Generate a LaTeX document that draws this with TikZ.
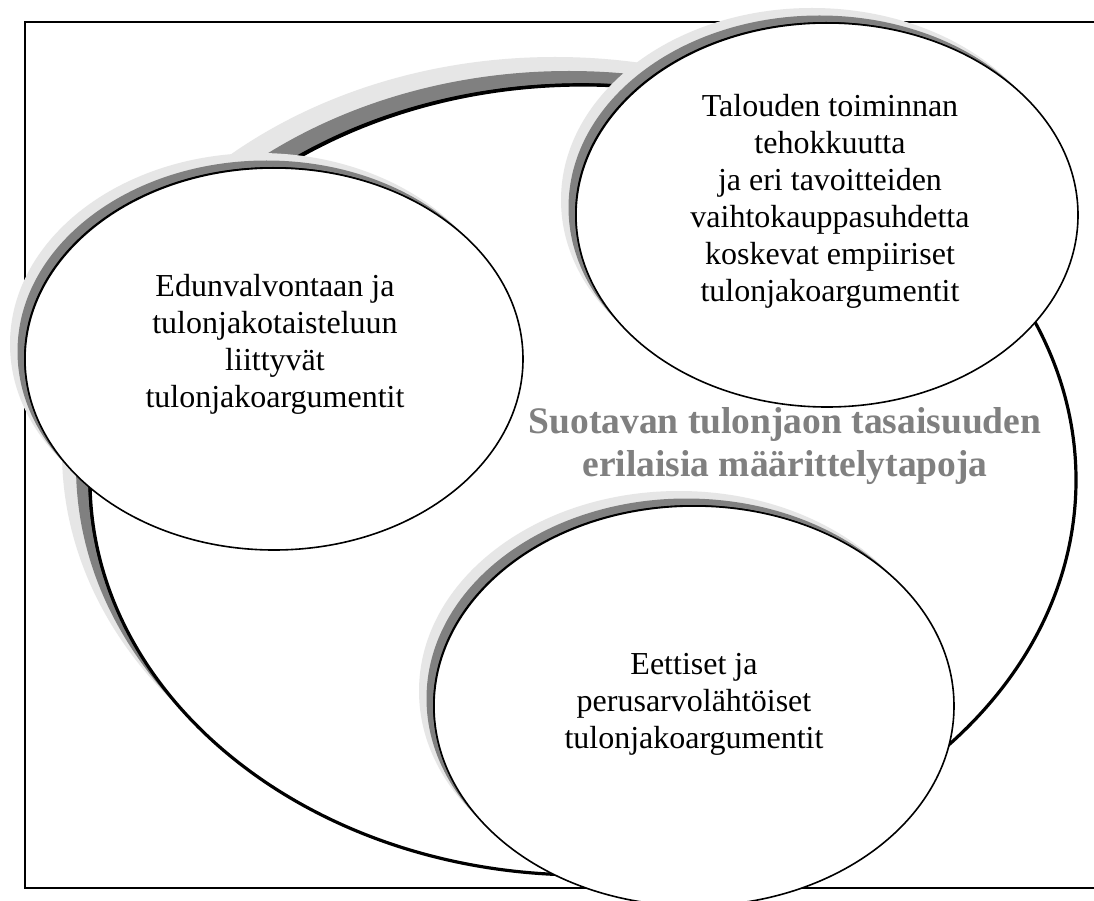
\documentclass[tikz,border=0pt]{standalone}
\usepackage{fontspec}
\setmainfont{Liberation Serif}
\definecolor{shLight}{RGB}{230,230,230}
\definecolor{shDark}{RGB}{128,128,128}
\definecolor{titleGray}{RGB}{128,128,128}
% cx cy rx ry shadow-step black-offset linewidth
\newcommand\shEll[7]{%
  \fill[shLight] ({#1-2*#5},{#2-2*#5}) ellipse [x radius=#3, y radius=#4];
  \fill[shDark] ({#1-#5},{#2-#5}) ellipse [x radius=#3, y radius=#4];
  \fill[black] ({#1-#6},{#2-#6}) ellipse [x radius=#3, y radius=#4];
  \draw[line width=#7pt, fill=white] (#1,#2) ellipse [x radius=#3, y radius=#4];
}
\tikzset{
  bodytext/.style={align=center, inner sep=0pt, font=\fontsize{32}{37}\selectfont},
  titletext/.style={align=center, inner sep=0pt, text=titleGray, font=\bfseries\fontsize{37.5}{43}\selectfont},
  framestyle/.style={line width=1.6pt}
}
\begin{document}
\begin{tikzpicture}[x=1pt,y=-1pt]
\useasboundingbox (0,0) rectangle (1094,901);
\clip (0,0) rectangle (1094,901);
\fill[white] (0,0) rectangle (1094,901);
% frame
\draw[framestyle] (1120,22) -- (25,22) -- (25,888) -- (1120,888);
% main ellipse
\shEll{583}{480}{493}{395}{14}{1.8}{3.2}
% left ellipse
\shEll{274}{359}{249}{191}{7.5}{1}{1.6}
% top-right ellipse
\shEll{827}{215}{251}{192}{7.5}{1}{1.6}
% bottom ellipse
\shEll{694}{706}{260}{200}{7.5}{1}{1.6}
% texts
\node[titletext] (title) at (785,446) {Suotavan tulonjaon tasaisuuden\\erilaisia määrittelytapoja};
\node[bodytext] (left) at (275,344) {Edunvalvontaan ja\\tulonjakotaisteluun\\liittyvät\\tulonjakoargumentit};
\node[bodytext] (topright) at (830,201) {Talouden toiminnan\\tehokkuutta\\ja eri tavoitteiden\\vaihtokauppasuhdetta\\koskevat empiiriset\\tulonjakoargumentit};
\node[bodytext] (bottom) at (694,704) {Eettiset ja\\perusarvolähtöiset\\tulonjakoargumentit};
\end{tikzpicture}
\end{document}
